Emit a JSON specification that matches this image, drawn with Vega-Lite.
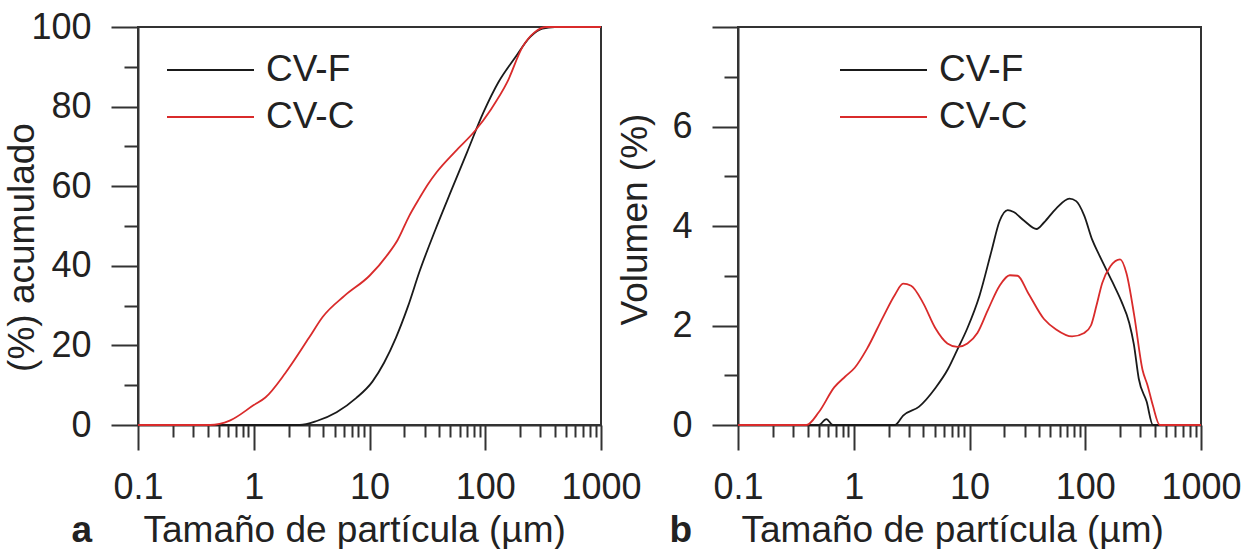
{
  "$schema": "https://vega.github.io/schema/vega-lite/v6.json",
  "background": "white",
  "padding": {"left": 2, "top": 8, "right": 0, "bottom": 0},
  "datasets": {
    "acum": [
      {"serie": "CV-F", "size": 0.1, "value": 0},
      {"serie": "CV-F", "size": 1, "value": 0},
      {"serie": "CV-F", "size": 2.5, "value": 0},
      {"serie": "CV-F", "size": 3.5, "value": 1.0},
      {"serie": "CV-F", "size": 5.2, "value": 3.2},
      {"serie": "CV-F", "size": 7.7, "value": 6.8},
      {"serie": "CV-F", "size": 10.6, "value": 10.9},
      {"serie": "CV-F", "size": 13.4, "value": 15.7},
      {"serie": "CV-F", "size": 16.9, "value": 21.9},
      {"serie": "CV-F", "size": 21.5, "value": 29.8},
      {"serie": "CV-F", "size": 27, "value": 38.5},
      {"serie": "CV-F", "size": 37, "value": 49},
      {"serie": "CV-F", "size": 51, "value": 59},
      {"serie": "CV-F", "size": 70, "value": 68.7},
      {"serie": "CV-F", "size": 96, "value": 78.4},
      {"serie": "CV-F", "size": 131, "value": 86.3},
      {"serie": "CV-F", "size": 180, "value": 92.2},
      {"serie": "CV-F", "size": 246, "value": 97.6},
      {"serie": "CV-F", "size": 312, "value": 99.6},
      {"serie": "CV-F", "size": 400, "value": 100},
      {"serie": "CV-F", "size": 1000, "value": 100},
      {"serie": "CV-C", "size": 0.1, "value": 0},
      {"serie": "CV-C", "size": 0.42, "value": 0},
      {"serie": "CV-C", "size": 0.62, "value": 1.1},
      {"serie": "CV-C", "size": 1.0, "value": 5.0},
      {"serie": "CV-C", "size": 1.26, "value": 6.9},
      {"serie": "CV-C", "size": 1.87, "value": 13},
      {"serie": "CV-C", "size": 3.0, "value": 21.9},
      {"serie": "CV-C", "size": 3.95, "value": 27.2},
      {"serie": "CV-C", "size": 6.1, "value": 32.5},
      {"serie": "CV-C", "size": 10, "value": 37.5},
      {"serie": "CV-C", "size": 14.5, "value": 43},
      {"serie": "CV-C", "size": 17.5, "value": 46.5},
      {"serie": "CV-C", "size": 22, "value": 52.5},
      {"serie": "CV-C", "size": 27, "value": 57},
      {"serie": "CV-C", "size": 32, "value": 60.5},
      {"serie": "CV-C", "size": 38, "value": 63.5},
      {"serie": "CV-C", "size": 55, "value": 68.7},
      {"serie": "CV-C", "size": 82, "value": 74},
      {"serie": "CV-C", "size": 112, "value": 79.3},
      {"serie": "CV-C", "size": 154, "value": 86},
      {"serie": "CV-C", "size": 210, "value": 95},
      {"serie": "CV-C", "size": 268, "value": 98.7},
      {"serie": "CV-C", "size": 340, "value": 100},
      {"serie": "CV-C", "size": 1000, "value": 100}
    ],
    "vol": [
      {"serie": "CV-F", "size": 0.1, "value": 0},
      {"serie": "CV-F", "size": 0.5, "value": 0},
      {"serie": "CV-F", "size": 0.58, "value": 0.12},
      {"serie": "CV-F", "size": 0.66, "value": 0},
      {"serie": "CV-F", "size": 2.27, "value": 0},
      {"serie": "CV-F", "size": 2.67, "value": 0.19},
      {"serie": "CV-F", "size": 3.67, "value": 0.37},
      {"serie": "CV-F", "size": 5.06, "value": 0.74},
      {"serie": "CV-F", "size": 6.5, "value": 1.12},
      {"serie": "CV-F", "size": 7.8, "value": 1.5},
      {"serie": "CV-F", "size": 9.6, "value": 1.95},
      {"serie": "CV-F", "size": 12.2, "value": 2.6},
      {"serie": "CV-F", "size": 15.5, "value": 3.5},
      {"serie": "CV-F", "size": 18.2, "value": 4.1},
      {"serie": "CV-F", "size": 21.4, "value": 4.32},
      {"serie": "CV-F", "size": 24.1, "value": 4.28},
      {"serie": "CV-F", "size": 29.5, "value": 4.11},
      {"serie": "CV-F", "size": 38, "value": 3.94},
      {"serie": "CV-F", "size": 44, "value": 4.07},
      {"serie": "CV-F", "size": 56, "value": 4.35},
      {"serie": "CV-F", "size": 73, "value": 4.55},
      {"serie": "CV-F", "size": 83.5, "value": 4.5},
      {"serie": "CV-F", "size": 98, "value": 4.21},
      {"serie": "CV-F", "size": 115, "value": 3.72},
      {"serie": "CV-F", "size": 130, "value": 3.45},
      {"serie": "CV-F", "size": 172, "value": 2.87},
      {"serie": "CV-F", "size": 204, "value": 2.5},
      {"serie": "CV-F", "size": 240, "value": 2.05},
      {"serie": "CV-F", "size": 263, "value": 1.62},
      {"serie": "CV-F", "size": 290, "value": 0.93},
      {"serie": "CV-F", "size": 339, "value": 0.47},
      {"serie": "CV-F", "size": 384, "value": 0},
      {"serie": "CV-F", "size": 1000, "value": 0},
      {"serie": "CV-C", "size": 0.1, "value": 0},
      {"serie": "CV-C", "size": 0.39, "value": 0},
      {"serie": "CV-C", "size": 0.5, "value": 0.26},
      {"serie": "CV-C", "size": 0.68, "value": 0.76},
      {"serie": "CV-C", "size": 0.84, "value": 0.97},
      {"serie": "CV-C", "size": 1.02, "value": 1.15},
      {"serie": "CV-C", "size": 1.3, "value": 1.53},
      {"serie": "CV-C", "size": 1.79, "value": 2.17},
      {"serie": "CV-C", "size": 2.27, "value": 2.62},
      {"serie": "CV-C", "size": 2.67, "value": 2.84},
      {"serie": "CV-C", "size": 3.13, "value": 2.8},
      {"serie": "CV-C", "size": 3.98, "value": 2.45},
      {"serie": "CV-C", "size": 5.06, "value": 1.95},
      {"serie": "CV-C", "size": 6.44, "value": 1.64},
      {"serie": "CV-C", "size": 7.87, "value": 1.57},
      {"serie": "CV-C", "size": 9.6, "value": 1.64},
      {"serie": "CV-C", "size": 11.7, "value": 1.85},
      {"serie": "CV-C", "size": 14.4, "value": 2.31},
      {"serie": "CV-C", "size": 18.2, "value": 2.8},
      {"serie": "CV-C", "size": 22.3, "value": 3.01},
      {"serie": "CV-C", "size": 26, "value": 3.0},
      {"serie": "CV-C", "size": 32, "value": 2.66},
      {"serie": "CV-C", "size": 44, "value": 2.13},
      {"serie": "CV-C", "size": 56, "value": 1.92},
      {"serie": "CV-C", "size": 77, "value": 1.78},
      {"serie": "CV-C", "size": 98, "value": 1.85},
      {"serie": "CV-C", "size": 112, "value": 2.0},
      {"serie": "CV-C", "size": 125, "value": 2.4},
      {"serie": "CV-C", "size": 140, "value": 2.85},
      {"serie": "CV-C", "size": 165, "value": 3.19},
      {"serie": "CV-C", "size": 200, "value": 3.33},
      {"serie": "CV-C", "size": 227, "value": 3.05},
      {"serie": "CV-C", "size": 265, "value": 2.2},
      {"serie": "CV-C", "size": 313, "value": 1.1},
      {"serie": "CV-C", "size": 345, "value": 0.8},
      {"serie": "CV-C", "size": 383, "value": 0.4},
      {"serie": "CV-C", "size": 440, "value": 0},
      {"serie": "CV-C", "size": 1000, "value": 0}
    ]
  },
  "spacing": 137,
  "bounds": "flush",
  "resolve": {"scale": {"color": "independent"}, "legend": {"color": "independent"}},
  "hconcat": [
    {
      "width": 463,
      "height": 398,
      "data": {"name": "acum"},
      "resolve": {"axis": {"x": "independent", "y": "independent"}},
      "layer": [
        {
          "mark": {"type": "line", "strokeWidth": 1.8, "interpolate": "monotone"},
          "encoding": {
            "x": {"field": "size", "type": "quantitative",
                  "scale": {"type": "log", "domain": [0.1, 1000], "nice": false},
                  "axis": {"orient": "bottom", "values": [0.1, 1, 10, 100, 1000], "format": "~g", "tickSize": 25, "labelPadding": 20, "labelFlush": false, "labelOverlap": false,
                           "title": "Tamaño de partícula (µm)", "titleAlign": "left", "titleX": 5, "titleY": 116, "titleBaseline": "alphabetic"}},
            "y": {"field": "value", "type": "quantitative",
                  "scale": {"domain": [0, 100], "nice": false},
                  "axis": {"orient": "left", "values": [0, 20, 40, 60, 80, 100], "tickSize": 27, "labelPadding": 20, "labelFlush": false, "labelOverlap": false,
                           "title": "(%) acumulado", "titleX": -105, "titleY": 220, "titleBaseline": "alphabetic"}},
            "color": {"field": "serie", "type": "nominal", "sort": ["CV-F", "CV-C"],
                      "scale": {"domain": ["CV-F", "CV-C"], "range": ["#1a1a1a", "#d92b2b"]},
                      "legend": {"legendX": 28, "legendY": 23}}
          }
        },
        {
          "mark": {"type": "line", "opacity": 0},
          "encoding": {
            "x": {"field": "size", "type": "quantitative",
                  "scale": {"type": "log", "domain": [0.1, 1000], "nice": false},
                  "axis": {"orient": "bottom", "values": [0.2, 0.3, 0.4, 0.5, 0.6, 0.7, 0.8, 0.9, 2, 3, 4, 5, 6, 7, 8, 9, 20, 30, 40, 50, 60, 70, 80, 90, 200, 300, 400, 500, 600, 700, 800, 900],
                           "tickSize": 12, "labels": false, "domain": false,
                           "title": "a", "titleFontWeight": "bold", "titleAlign": "left", "titleX": -67, "titleY": 116, "titleBaseline": "alphabetic"}},
            "y": {"field": "value", "type": "quantitative",
                  "scale": {"domain": [0, 100], "nice": false},
                  "axis": {"orient": "left", "values": [10, 30, 50, 70, 90], "tickSize": 14, "labels": false, "domain": false, "title": null}},
            "detail": {"field": "serie", "type": "nominal"}
          }
        }
      ]
    },
    {
      "width": 463,
      "height": 398,
      "data": {"name": "vol"},
      "resolve": {"axis": {"x": "independent", "y": "independent"}},
      "layer": [
        {
          "mark": {"type": "line", "strokeWidth": 1.8, "interpolate": "monotone"},
          "encoding": {
            "x": {"field": "size", "type": "quantitative",
                  "scale": {"type": "log", "domain": [0.1, 1000], "nice": false},
                  "axis": {"orient": "bottom", "values": [0.1, 1, 10, 100, 1000], "format": "~g", "tickSize": 25, "labelPadding": 20, "labelFlush": false, "labelOverlap": false,
                           "title": "Tamaño de partícula (µm)", "titleAlign": "left", "titleX": 3, "titleY": 116, "titleBaseline": "alphabetic"}},
            "y": {"field": "value", "type": "quantitative",
                  "scale": {"domain": [0, 8], "nice": false},
                  "axis": {"orient": "left", "values": [0, 2, 4, 6, 8], "labelExpr": "datum.value == 8 ? '' : datum.label", "tickSize": 26, "labelPadding": 20, "labelFlush": false, "labelOverlap": false,
                           "title": "Volumen (%)", "titleX": -92, "titleY": 192, "titleBaseline": "alphabetic"}},
            "color": {"field": "serie", "type": "nominal", "sort": ["CV-F", "CV-C"],
                      "scale": {"domain": ["CV-F", "CV-C"], "range": ["#1a1a1a", "#d92b2b"]},
                      "legend": {"legendX": 101, "legendY": 23}}
          }
        },
        {
          "mark": {"type": "line", "opacity": 0},
          "encoding": {
            "x": {"field": "size", "type": "quantitative",
                  "scale": {"type": "log", "domain": [0.1, 1000], "nice": false},
                  "axis": {"orient": "bottom", "values": [0.2, 0.3, 0.4, 0.5, 0.6, 0.7, 0.8, 0.9, 2, 3, 4, 5, 6, 7, 8, 9, 20, 30, 40, 50, 60, 70, 80, 90, 200, 300, 400, 500, 600, 700, 800, 900],
                           "tickSize": 12, "labels": false, "domain": false,
                           "title": "b", "titleFontWeight": "bold", "titleAlign": "left", "titleX": -69, "titleY": 116, "titleBaseline": "alphabetic"}},
            "y": {"field": "value", "type": "quantitative",
                  "scale": {"domain": [0, 8], "nice": false},
                  "axis": {"orient": "left", "values": [1, 3, 5, 7], "tickSize": 14, "labels": false, "domain": false, "title": null}},
            "detail": {"field": "serie", "type": "nominal"}
          }
        }
      ]
    }
  ],
  "config": {
    "font": "Liberation Sans",
    "view": {"stroke": "#333", "strokeWidth": 2},
    "axis": {"grid": false, "domainColor": "#333", "domainWidth": 2, "tickColor": "#333", "tickWidth": 2,
             "labelFont": "Liberation Sans", "labelFontSize": 36, "labelColor": "#222",
             "titleFont": "Liberation Sans", "titleFontSize": 37, "titleFontWeight": "normal", "titleColor": "#222"},
    "legend": {"orient": "none", "title": null, "symbolType": "stroke", "symbolSize": 7569, "symbolStrokeWidth": 2,
               "labelFont": "Liberation Sans", "labelFontSize": 37, "labelColor": "#222", "labelOffset": 11,
               "clipHeight": 40, "rowPadding": 7, "padding": 0}
  }
}
